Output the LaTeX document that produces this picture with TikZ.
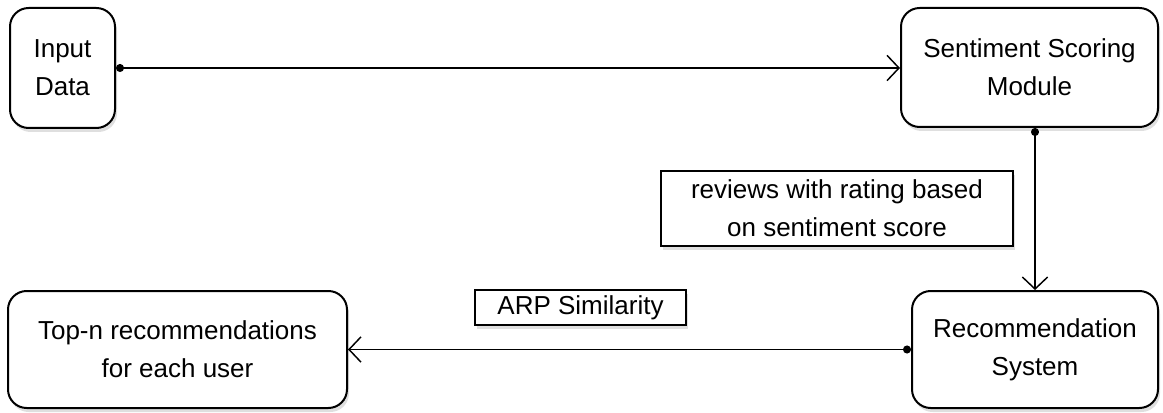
\documentclass[tikz,border=0pt]{standalone}
\usepackage{fontspec}
\setmainfont{Liberation Sans}
\usetikzlibrary{arrows.meta,shadows}

\tikzset{
  flow block/.style={draw,line width=1.5pt,rounded corners=14pt,fill=white,
    align=center,inner sep=0pt,font=\fontsize{19.5}{28.5}\selectfont,
    drop shadow={opacity=0.25,shadow xshift=1.5pt,shadow yshift=-3pt}},
  flow note/.style={draw,line width=1.3pt,fill=white,align=center,inner sep=0pt,
    font=\fontsize{19.5}{28.5}\selectfont,
    drop shadow={opacity=0.25,shadow xshift=1.5pt,shadow yshift=-3pt}},
  flow link/.style={line width=1.1pt,
    {Circle[length=6pt]}-{Straight Barb[length=9pt,width=19pt,line width=1.1pt]}}
}

\begin{document}
\begin{tikzpicture}[x=0.75pt,y=-0.75pt]
      \useasboundingbox (0,0) rectangle (1163,413);
      \node[flow block,minimum width=78.75pt,minimum height=90pt] (input) at (62.5,68) {Input\\Data};
      \node[flow block,minimum width=192.75pt,minimum height=89.25pt] (sentiment) at (1029.5,67.5) {Sentiment Scoring\\Module};
      \node[flow note,minimum width=264pt,minimum height=56.25pt] (reviews) at (837,208.5) {reviews with rating based\\on sentiment score};
      \node[flow block,minimum width=184.5pt,minimum height=87.75pt] (recsys) at (1035,349.5) {Recommendation\\System};
      \node[flow block,minimum width=254.25pt,minimum height=87.75pt] (topn) at (177.5,349.5) {Top-n recommendations\\for each user};
      \node[flow note,minimum width=158.25pt,minimum height=26.25pt] (arp) at (580.5,307.5) {ARP Similarity};
      \draw[flow link] (input.east) -- (sentiment.west |- input.east);
      \draw[flow link] (recsys.north |- sentiment.south) -- (recsys.north);
      \draw[flow link] (recsys.west) -- (topn.east);
    \end{tikzpicture}
\end{document}
